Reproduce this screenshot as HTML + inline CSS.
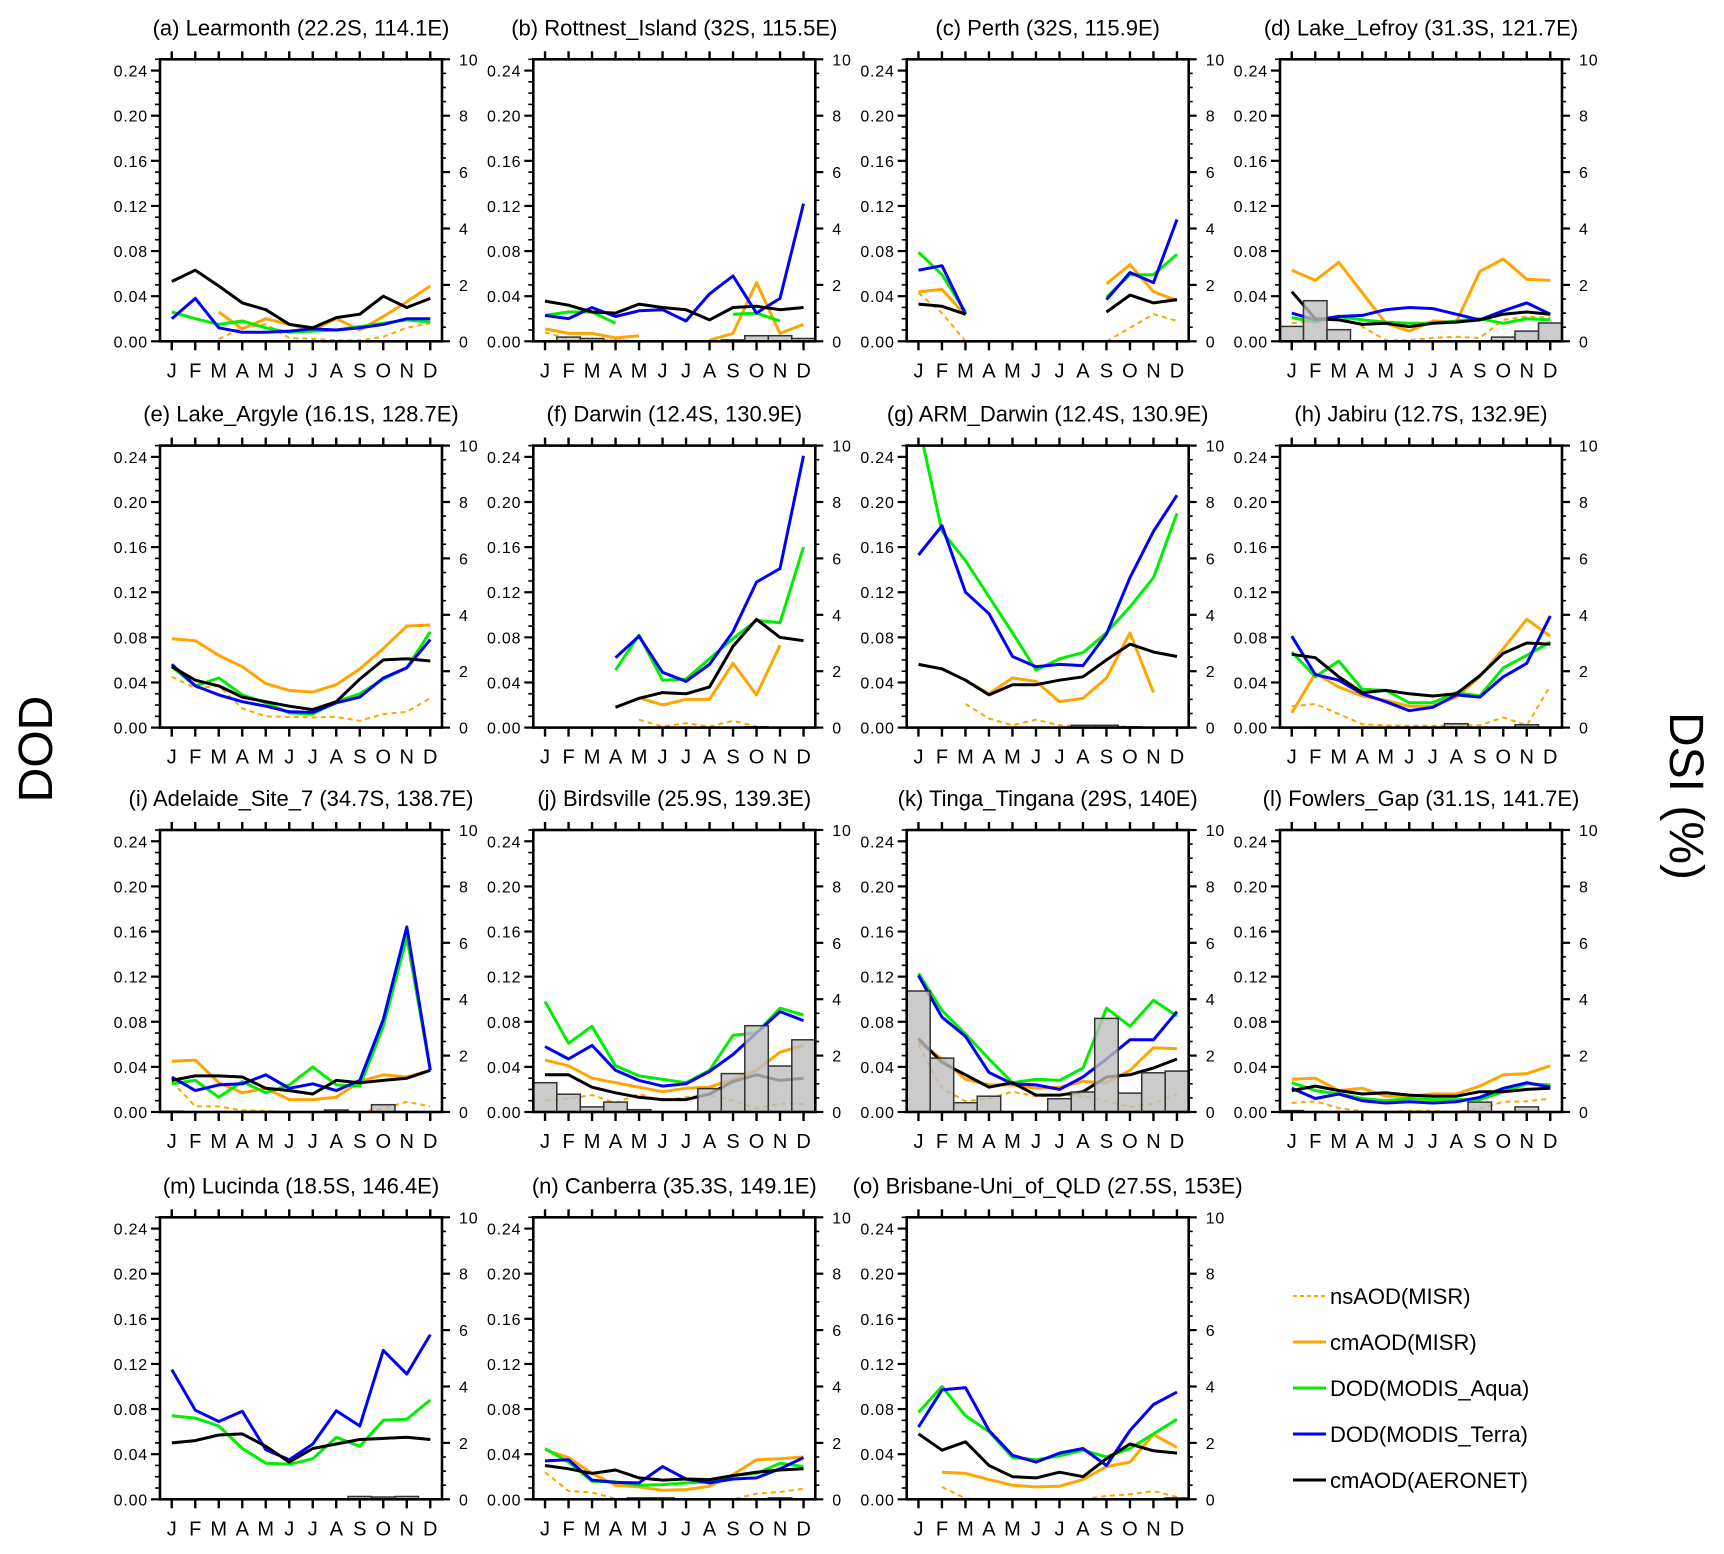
<!DOCTYPE html>
<html><head><meta charset="utf-8"><style>
html,body{margin:0;padding:0;background:#fff}
svg{display:block}
text{font-family:"Liberation Sans",Arial,sans-serif;fill:#000}
</style></head><body>
<svg id="chart" xmlns="http://www.w3.org/2000/svg" width="1724" height="1554" viewBox="0 0 1724 1554">
<text x="0" y="0" transform="translate(52,749) rotate(-90)" text-anchor="middle" font-size="48">DOD</text>
<text x="0" y="0" transform="translate(1670,796) rotate(90)" text-anchor="middle" font-size="48">DSI (%)</text>
</svg>
<script>
const N = null;
const months = ["J","F","M","A","M","J","J","A","S","O","N","D"];
const titles = ["(a) Learmonth (22.2S, 114.1E)","(b) Rottnest_Island (32S, 115.5E)","(c) Perth (32S, 115.9E)","(d) Lake_Lefroy (31.3S, 121.7E)","(e) Lake_Argyle (16.1S, 128.7E)","(f) Darwin (12.4S, 130.9E)","(g) ARM_Darwin (12.4S, 130.9E)","(h) Jabiru (12.7S, 132.9E)","(i) Adelaide_Site_7 (34.7S, 138.7E)","(j) Birdsville (25.9S, 139.3E)","(k) Tinga_Tingana (29S, 140E)","(l) Fowlers_Gap (31.1S, 141.7E)","(m) Lucinda (18.5S, 146.4E)","(n) Canberra (35.3S, 149.1E)","(o) Brisbane-Uni_of_QLD (27.5S, 153E)"];
const dodTicks = ["0.00","0.04","0.08","0.12","0.16","0.20","0.24"];
const dsiTicks = ["0","2","4","6","8","10"];
const nsAOD = [
[N,N,0.002,0.012,0.015,0.003,0.002,0.001,0.001,0.004,0.012,0.016],
[0.008,0.002,N,N,N,N,N,N,N,N,N,N],
[0.043,0.025,0.000,N,N,N,N,N,0.000,0.012,0.024,0.018],
[0.016,0.018,0.023,0.013,0.001,0.001,0.003,0.004,0.003,0.019,0.022,0.021],
[0.045,0.035,0.037,0.017,0.010,0.0095,0.009,0.0095,0.006,0.012,0.014,0.026],
[N,N,N,N,0.007,0.001,0.004,0.001,0.006,0.001,N,N],
[N,N,0.021,0.008,0.002,0.007,0.002,0.001,0.001,0.001,N,N],
[0.019,0.021,0.012,0.003,0.002,0.0015,0.0015,0.002,0.002,0.009,0.002,0.037],
[0.027,0.005,0.005,0.0015,0.001,0,0,0,0,0.003,0.009,0.005],
[0.010,0.012,0.015,0.008,0.016,0.010,0.013,0.015,0.010,0.003,0.0075,0.007],
[0.059,0.021,0.0095,0.012,0.018,0.014,0.015,0.014,0.0095,0.0045,0.0075,0.016],
[0.008,0.0095,0.0035,0.0006,0,0.001,0.001,0,0.003,0.009,0.0095,0.012],
[N,N,N,N,N,N,N,N,N,N,N,N],
[0.024,0.0074,0.006,0.0006,0,0,0,0,0,0.005,0.0065,0.0095],
[N,0.011,0.0006,0,0,0,0,0,0.003,0.0044,0.0074,0.002]];
const cmMISR = [
[N,N,0.026,0.011,0.020,0.015,0.010,0.020,0.010,0.022,0.035,0.049],
[0.011,0.007,0.007,0.003,0.005,N,N,0.001,0.007,0.052,0.007,0.015],
[0.044,0.046,0.023,N,N,N,N,N,0.051,0.068,0.044,0.036],
[0.063,0.054,0.070,0.043,0.016,0.009,0.018,0.017,0.062,0.073,0.055,0.054],
[0.0787,0.077,0.064,0.054,0.039,0.033,0.0315,0.038,0.052,0.070,0.090,0.091],
[N,N,N,N,0.0265,0.020,0.025,0.025,0.057,0.029,0.073,N],
[N,N,0.042,0.030,0.044,0.041,0.023,0.026,0.044,0.084,0.031,N],
[0.013,0.048,0.036,0.028,0.024,0.019,0.019,0.027,0.045,0.070,0.096,0.081],
[0.045,0.046,0.026,0.017,0.021,0.011,0.011,0.013,0.027,0.033,0.031,0.037],
[0.046,0.041,0.030,0.026,0.022,0.018,0.021,0.022,0.029,0.037,0.053,0.059],
[0.062,0.047,0.029,0.024,0.024,0.021,0.022,0.027,0.026,0.037,0.057,0.056],
[0.029,0.030,0.019,0.021,0.014,0.014,0.016,0.016,0.023,0.033,0.034,0.041],
[N,N,N,N,N,N,N,N,N,N,N,N],
[0.044,0.037,0.023,0.0125,0.011,0.008,0.0086,0.0115,0.022,0.035,0.036,0.0375],
[N,0.024,0.023,0.0175,0.0125,0.011,0.0116,0.0175,0.029,0.033,0.0575,0.046]];
const dodAqua = [
[0.026,0.020,0.015,0.018,0.012,0.008,0.009,0.010,0.013,0.016,0.019,0.017],
[0.023,0.026,0.026,0.016,N,N,N,N,0.024,0.025,0.018,N],
[0.079,0.059,0.026,N,N,N,N,N,0.039,0.059,0.059,0.077],
[0.021,0.017,0.022,0.019,0.017,0.016,0.016,0.018,0.020,0.016,0.020,0.019],
[0.054,0.037,0.044,0.029,0.022,0.013,0.012,0.023,0.030,0.043,0.053,0.085],
[N,N,N,0.051,0.082,0.042,0.043,0.061,0.079,0.095,0.093,0.160],
[0.27,0.174,0.148,0.116,0.084,0.051,0.061,0.0665,0.084,0.107,0.133,0.190],
[0.067,0.045,0.059,0.034,0.033,0.022,0.022,0.031,0.028,0.053,0.064,0.076],
[0.025,0.028,0.013,0.027,0.017,0.024,0.040,0.024,0.023,0.076,0.155,0.037],
[0.098,0.061,0.076,0.041,0.032,0.029,0.026,0.037,0.068,0.070,0.092,0.086],
[0.123,0.090,0.069,0.047,0.026,0.029,0.028,0.039,0.092,0.076,0.099,0.085],
[0.026,0.019,0.016,0.012,0.010,0.012,0.011,0.011,0.011,0.018,0.025,0.024],
[0.074,0.072,0.065,0.045,0.032,0.031,0.036,0.055,0.047,0.070,0.071,0.088],
[0.045,0.033,0.016,0.0155,0.0125,0.013,0.0145,0.0155,0.021,0.023,0.032,0.029],
[0.077,0.100,0.074,0.060,0.037,0.035,0.0385,0.0435,0.0376,0.045,0.058,0.071]];
const dodTerra = [
[0.020,0.038,0.012,0.008,0.008,0.009,0.011,0.010,0.012,0.015,0.020,0.020],
[0.023,0.020,0.030,0.022,0.027,0.028,0.018,0.042,0.058,0.025,0.038,0.122],
[0.063,0.067,0.024,N,N,N,N,N,0.037,0.061,0.052,0.108],
[0.025,0.019,0.022,0.023,0.028,0.030,0.029,0.024,0.019,0.027,0.034,0.024],
[0.056,0.037,0.029,0.023,0.019,0.014,0.0135,0.022,0.027,0.044,0.053,0.078],
[N,N,N,0.062,0.081,0.049,0.041,0.056,0.085,0.129,0.141,0.241],
[0.153,0.179,0.120,0.101,0.063,0.054,0.056,0.055,0.083,0.133,0.174,0.206],
[0.081,0.047,0.042,0.030,0.023,0.015,0.018,0.029,0.027,0.045,0.057,0.099],
[0.031,0.019,0.024,0.025,0.033,0.021,0.025,0.019,0.028,0.082,0.164,0.037],
[0.058,0.047,0.059,0.037,0.028,0.023,0.025,0.036,0.051,0.070,0.089,0.081],
[0.121,0.084,0.067,0.035,0.025,0.024,0.020,0.031,0.047,0.064,0.064,0.089],
[0.021,0.012,0.016,0.010,0.008,0.009,0.008,0.009,0.013,0.021,0.026,0.022],
[0.115,0.079,0.069,0.078,0.044,0.035,0.049,0.0785,0.065,0.132,0.111,0.146],
[0.034,0.035,0.017,0.015,0.0145,0.029,0.018,0.0145,0.018,0.019,0.027,0.037],
[0.064,0.097,0.099,0.061,0.039,0.033,0.041,0.045,0.030,0.061,0.084,0.095]];
const cmAERONET = [
[0.053,0.063,0.049,0.034,0.028,0.015,0.012,0.021,0.024,0.040,0.030,0.038],
[0.0356,0.032,0.026,0.025,0.033,0.030,0.028,0.019,0.030,0.031,0.028,0.030],
[0.033,0.031,0.024,N,N,N,N,N,0.026,0.041,0.034,0.037],
[0.044,0.020,0.019,0.015,0.016,0.013,0.016,0.017,0.019,0.024,0.026,0.024],
[0.054,0.042,0.037,0.027,0.023,0.019,0.016,0.023,0.043,0.060,0.061,0.059],
[N,N,N,0.018,0.026,0.031,0.030,0.036,0.072,0.096,0.080,0.077],
[0.056,0.052,0.042,0.029,0.038,0.038,0.042,0.045,0.060,0.074,0.067,0.063],
[0.065,0.062,0.045,0.031,0.033,0.030,0.028,0.030,0.046,0.066,0.075,0.074],
[0.028,0.032,0.032,0.031,0.021,0.019,0.016,0.028,0.026,0.028,0.030,0.037],
[0.033,0.033,0.022,0.017,0.013,0.011,0.011,0.016,0.027,0.033,0.028,0.030],
[0.065,0.044,0.033,0.022,0.026,0.015,0.015,0.018,0.031,0.033,0.039,0.047],
[0.019,0.023,0.019,0.016,0.017,0.015,0.014,0.014,0.018,0.018,0.020,0.021],
[0.050,0.052,0.057,0.058,0.047,0.033,0.045,0.049,0.053,0.054,0.055,0.053],
[0.030,0.027,0.023,0.026,0.019,0.017,0.018,0.0175,0.021,0.024,0.026,0.027],
[0.058,0.0435,0.051,0.030,0.020,0.019,0.024,0.020,0.036,0.049,0.043,0.041]];
const dsiValues = [
[0,0,0,0,0,0,0,0,0,0,0,0],
[0,0.15,0.1,0.03,0,0,0,0,0.05,0.2,0.2,0.1],
[0,0,0,0,0,0,0,0,0,0,0,0],
[0.53,1.44,0.41,0,0,0,0,0,0,0.15,0.36,0.65],
[0,0,0,0,0,0,0,0,0,0,0,0],
[0,0,0,0,0,0,0,0,0,0.03,0,0],
[0,0,0,0,0,0,0,0.08,0.08,0.03,0,0],
[0,0,0,0,0,0,0,0.14,0,0,0.1,0],
[0.03,0,0,0,0,0,0,0.07,0,0.26,0,0],
[1.04,0.63,0.18,0.35,0.08,0,0,0.83,1.36,3.06,1.63,2.56],
[4.29,1.91,0.33,0.56,0,0,0.47,0.71,3.32,0.67,1.39,1.45],
[0.05,0,0,0,0,0,0,0,0.35,0,0.18,0],
[0,0,0,0,0,0,0,0,0.1,0.08,0.1,0],
[0,0,0,0,0.05,0.05,0,0,0,0,0.05,0],
[0,0,0,0,0,0,0,0,0,0,0,0.05]];
const legendLabels = ["nsAOD(MISR)","cmAOD(MISR)","DOD(MODIS_Aqua)","DOD(MODIS_Terra)","cmAOD(AERONET)"];

const NS = "http://www.w3.org/2000/svg";
const svg = document.getElementById("chart");
const PW = 282, PH = 282, DODMAX = 0.25, DSIMAX = 10;
const colX = [160, 533.3, 906.7, 1280];
const rowY = [59.3, 445.6, 830, 1217.3];
function mk(tag, attrs, parent) {
  const el = document.createElementNS(NS, tag);
  for (const k in attrs) el.setAttribute(k, attrs[k]);
  (parent || svg).appendChild(el);
  return el;
}
const defs = mk("defs", {});

const seriesDefs = [
  {data: nsAOD, color: "#FFA500", dash: "5,4", w: 2, name: "nsaod-misr-line"},
  {data: cmMISR, color: "#FFA500", dash: "", w: 3, name: "cmaod-misr-line"},
  {data: dodAqua, color: "#00EE00", dash: "", w: 3, name: "dod-modis-aqua-line"},
  {data: dodTerra, color: "#0000FF", dash: "", w: 3, name: "dod-modis-terra-line"},
  {data: cmAERONET, color: "#000000", dash: "", w: 3, name: "cmaod-aeronet-line"}
];

for (let p = 0; p < titles.length; p++) {
  const L = colX[p % 4], T = rowY[Math.floor(p / 4)];
  const xM = i => L + (i + 0.5) * PW / 12;
  const yD = v => T + PH - v / DODMAX * PH;
  const yS = v => T + PH - v / DSIMAX * PH;
  const g = mk("g", {});
  
  
  const cp = mk("clipPath", {id: "clip" + p}, defs);
  mk("rect", {x: L, y: T, width: PW, height: PH}, cp);

  const t = mk("text", {x: L + PW / 2, y: T - 24, "text-anchor": "middle", "font-size": 22}, g);
  t.textContent = titles[p];
  
  

  // series lines
  const lg = mk("g", {"clip-path": "url(#clip" + p + ")"}, g);
  seriesDefs.forEach(s => {
    const vals = s.data[p];
    let d = "", pen = false;
    vals.forEach((v, i) => {
      if (v === null) { pen = false; return; }
      d += (pen ? "L" : "M") + xM(i).toFixed(1) + "," + yD(v).toFixed(1);
      pen = true;
    });
    if (!d) return;
    const path = mk("path", {d: d, fill: "none", stroke: s.color, "stroke-width": s.w, "stroke-dasharray": s.dash, "stroke-linejoin": "round"}, lg);
    
    
  });

  // DSI bars
  dsiValues[p].forEach((v, i) => {
    if (!v) return;
    const bw = PW / 12;
    const b = mk("rect", {x: (xM(i) - bw / 2).toFixed(1), y: yS(v).toFixed(1), width: bw.toFixed(1), height: (T + PH - yS(v)).toFixed(1), fill: "rgba(190,190,190,0.8)", stroke: "#333", "stroke-width": 1.5}, g);
    
    
  });

  // frame
  const fr = mk("rect", {x: L, y: T, width: PW, height: PH, fill: "none", stroke: "#000", "stroke-width": 2.6}, g);
  
  

  // month ticks & labels
  months.forEach((m, i) => {
    const x = xM(i);
    mk("line", {x1: x, x2: x, y1: T, y2: T - 8, stroke: "#000", "stroke-width": 2.4}, g);
    mk("line", {x1: x, x2: x, y1: T + PH, y2: T + PH + 9, stroke: "#000", "stroke-width": 2.4}, g);
    const ml = mk("text", {x: x, y: T + PH + 36, "text-anchor": "middle", "font-size": 20}, g);
    ml.textContent = m;
    
    
  });
  // left DOD axis
  for (let k = 0; k <= 25; k++) {
    const y = yD(k * 0.01);
    const major = k % 4 === 0;
    mk("line", {x1: L, x2: L - (major ? 9 : 5), y1: y, y2: y, stroke: "#000", "stroke-width": major ? 2.2 : 1.6}, g);
  }
  dodTicks.forEach(lbl => {
    const tl = mk("text", {x: L - 12, y: yD(parseFloat(lbl)) + 6, "text-anchor": "end", "font-size": 16, "letter-spacing": "0.8"}, g);
    tl.textContent = lbl;
    
    
  });
  // right DSI axis
  for (let k = 0; k <= 20; k++) {
    const y = yS(k * 0.5);
    const major = k % 4 === 0;
    mk("line", {x1: L + PW, x2: L + PW + (major ? 8 : 4), y1: y, y2: y, stroke: "#000", "stroke-width": major ? 2.2 : 1.6}, g);
  }
  dsiTicks.forEach(lbl => {
    const tl = mk("text", {x: L + PW + 17, y: yS(parseFloat(lbl)) + 6, "text-anchor": "start", "font-size": 16, "letter-spacing": "0.8"}, g);
    tl.textContent = lbl;
    
    
  });
}

// legend
const lgd = mk("g", {});


legendLabels.forEach((lbl, i) => {
  const y = 1296 + i * 46;
  const s = seriesDefs[i];
  const e = mk("g", {}, lgd);
  
  
  mk("line", {x1: 1293, x2: 1326, y1: y, y2: y, stroke: s.color, "stroke-width": s.w, "stroke-dasharray": s.dash ? "4,3" : ""}, e);
  const tx = mk("text", {x: 1330, y: y + 8, "font-size": 22}, e);
  tx.textContent = lbl;
  
  
});
</script>
</body></html>
